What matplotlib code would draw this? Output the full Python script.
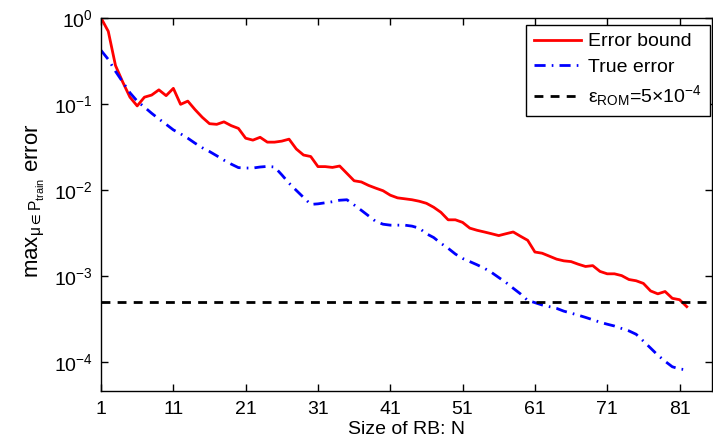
import matplotlib
matplotlib.use("Agg")
import matplotlib.pyplot as plt
from matplotlib.ticker import NullLocator

plt.rcParams['font.family'] = ['Liberation Sans', 'DejaVu Sans']
plt.rcParams['mathtext.fontset'] = 'custom'
plt.rcParams['mathtext.rm'] = 'Liberation Sans'
plt.rcParams['mathtext.it'] = 'Liberation Sans'
plt.rcParams['mathtext.default'] = 'regular'

# size of reduced basis
N = list(range(1, 83))

# error bound (red)
err_bound = [1.0, 0.70, 0.28, 0.18, 0.12, 0.095, 0.12, 0.127, 0.146, 0.125,
             0.152, 0.099, 0.108, 0.086, 0.070, 0.059, 0.058, 0.062, 0.056, 0.052,
             0.040, 0.038, 0.041, 0.036, 0.036, 0.037, 0.039, 0.030, 0.0255, 0.0245,
             0.0187, 0.0187, 0.0183, 0.019, 0.0156, 0.0128, 0.0124, 0.0113, 0.0105, 0.0098,
             0.0087, 0.0081, 0.0079, 0.0077, 0.0074, 0.0070, 0.0063, 0.0055, 0.0045, 0.0045,
             0.0042, 0.0036, 0.0034, 0.00325, 0.0031, 0.00295, 0.0031, 0.00325, 0.0029, 0.0026,
             0.0019, 0.00184, 0.0017, 0.00157, 0.0015, 0.00147, 0.00137, 0.00129, 0.00132, 0.00113,
             0.00106, 0.00106, 0.00101, 0.00091, 0.00088, 0.00082, 0.00067, 0.00062, 0.00066, 0.00055,
             0.00053, 0.00044]

# true error (blue)
true_err = [0.42, 0.33, 0.24, 0.18, 0.135, 0.108, 0.092, 0.078, 0.067, 0.058,
            0.050, 0.045, 0.040, 0.035, 0.031, 0.028, 0.025, 0.0222, 0.020, 0.0182,
            0.0180, 0.0180, 0.0185, 0.0188, 0.0185, 0.015, 0.012, 0.0099, 0.0082, 0.0068,
            0.0069, 0.0071, 0.0073, 0.0076, 0.0077, 0.0067, 0.0058, 0.0050, 0.0043, 0.0040,
            0.0039, 0.0039, 0.0039, 0.0038, 0.0036, 0.0031, 0.0028, 0.0024, 0.0021, 0.0018,
            0.0016, 0.00147, 0.00135, 0.00123, 0.00110, 0.00096, 0.00084, 0.00072, 0.00062, 0.00052,
            0.00049, 0.00046, 0.00044, 0.00042, 0.00039, 0.00037, 0.00035, 0.00033, 0.00031, 0.00029,
            0.000275, 0.000262, 0.000245, 0.00023, 0.00021, 0.000175, 0.000145, 0.00012, 0.000102, 0.000088,
            0.000083, 0.000081]

eps_rom = 5e-4
xticks = [1, 11, 21, 31, 41, 51, 61, 71, 81]

fig = plt.figure(figsize=(7.13, 4.43), dpi=100)
ax = fig.add_axes([0.1417, 0.1174, 0.857, 0.842])

ax.semilogy(N, err_bound, color='red', lw=2, label='Error bound')
ax.semilogy(N, true_err, color='blue', lw=2, dashes=(4, 2.2, 0.6, 2.2), label='True error')
ax.axhline(eps_rom, color='black', lw=2, dashes=(3.2, 2.6),
           label=r'$\varepsilon_{ROM}$=5$\times$10$^{-4}$')

ax.set_xlim(1, 85.5)
ax.set_ylim(4.6e-5, 1)
ax.set_xticks(xticks)
ax.set_yticks([1e-4, 1e-3, 1e-2, 1e-1, 1])
ax.yaxis.set_minor_locator(NullLocator())
ax.tick_params(direction='in', top=True, right=True, labelsize=14, length=5, width=1)
ax.tick_params(axis='x', pad=7)
ax.tick_params(axis='y', pad=6)
for s in ax.spines.values():
    s.set_linewidth(1)

ax.set_xlabel('Size of RB: N', fontsize=14)
ax.xaxis.set_label_coords(0.5, -0.08)
ax.set_ylabel(r'max$_{\mu \in P_{train}}$ error', fontsize=16)
ax.yaxis.set_label_coords(-0.088, 0.51)

leg = ax.legend(loc='upper right', bbox_to_anchor=(0.9967, 0.9812), fontsize=14,
                fancybox=False, edgecolor='black', framealpha=1, borderpad=0.4,
                labelspacing=0.4, handlelength=2.4, handletextpad=0.4, borderaxespad=0)
leg.get_frame().set_linewidth(1)

fig.savefig('out.png', dpi=100)
